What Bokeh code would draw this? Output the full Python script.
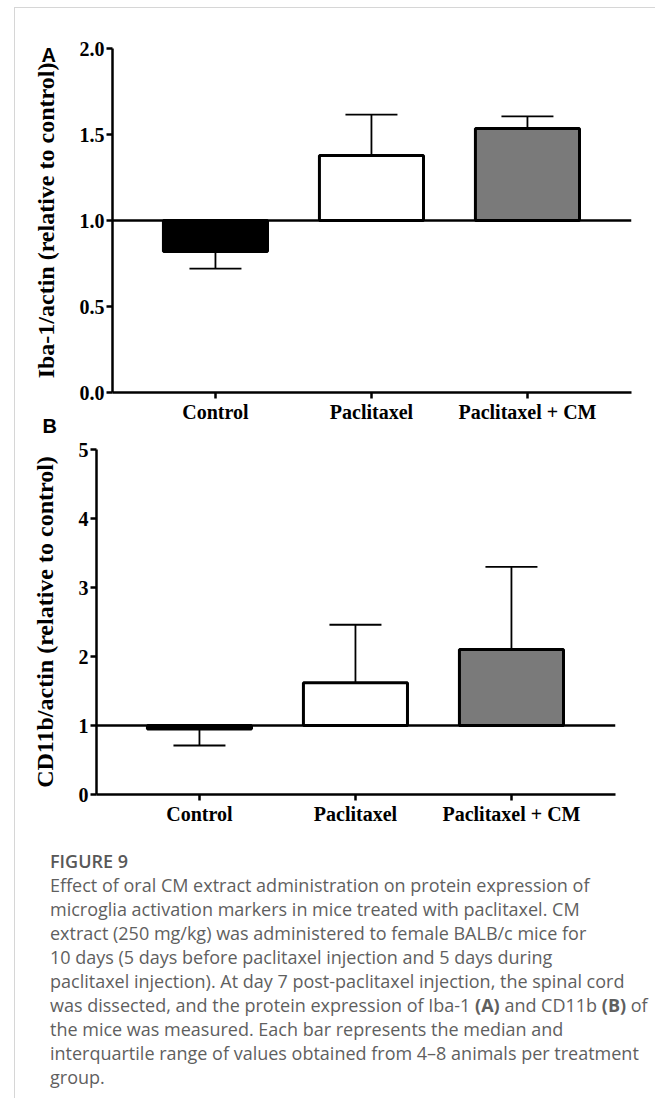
from bokeh.plotting import figure
from bokeh.models import (Range1d, FixedTicker, NumeralTickFormatter, Span, Title,
                          Div, ColumnDataSource)
from bokeh.layouts import column
from bokeh.embed import file_html
from bokeh.resources import INLINE

# ---------------- data ----------------
categories = ["Control", "Paclitaxel", "Paclitaxel + CM"]

iba1_median = [0.82, 1.378, 1.535]
iba1_iqr_end = [0.72, 1.615, 1.605]
iba1_ticks = [0.0, 0.5, 1.0, 1.5, 2.0]

cd11b_median = [0.95, 1.62, 2.10]
cd11b_iqr_end = [0.71, 2.46, 3.30]
cd11b_ticks = [0, 1, 2, 3, 4, 5]

baseline = 1.0
fills = ["black", "white", "#7a7a7a"]   # last bar: fine black/white checker in the original

caption_lines = [
    "Effect of oral CM extract administration on protein expression of",
    "microglia activation markers in mice treated with paclitaxel. CM",
    "extract (250 mg/kg) was administered to female BALB/c mice for",
    "10 days (5 days before paclitaxel injection and 5 days during",
    "paclitaxel injection). At day 7 post-paclitaxel injection, the spinal cord",
    "was dissected, and the protein expression of Iba-1 <b>(A)</b> and CD11b <b>(B)</b> of",
    "the mice was measured. Each bar represents the median and",
    "interquartile range of values obtained from 4\u20138 animals per treatment",
    "group.",
]

SERIF = "Liberation Serif"
SANS = "Liberation Sans"


def make_panel(medians, ends, ticks, fmt, ylabel, ymax, left, right, top, bottom, width, height):
    p = figure(width=width, height=height, output_backend="svg", toolbar_location=None,
               x_range=Range1d(-0.66, 2.667), y_range=Range1d(0, ymax),
               min_border_left=left, min_border_right=right,
               min_border_top=top, min_border_bottom=bottom,
               background_fill_color="white", border_fill_color="white")
    p.frame_align = False
    p.outline_line_color = None
    p.xgrid.grid_line_color = None
    p.ygrid.grid_line_color = None

    xs = list(range(len(categories)))
    src = ColumnDataSource(dict(x=xs, med=medians, end=ends,
                                base=[baseline] * len(xs), fill=fills,
                                cap0=[x - 1 / 6 for x in xs], cap1=[x + 1 / 6 for x in xs]))

    # whisker stems (under the bars)
    p.segment(x0="x", y0="med", x1="x", y1="end", source=src,
              line_color="black", line_width=1.8)
    # bars from baseline 1.0
    p.vbar(x="x", width=0.667, bottom="base", top="med", source=src,
           fill_color="fill", line_color="black", line_width=3)
    # caps
    p.segment(x0="cap0", y0="end", x1="cap1", y1="end", source=src,
              line_color="black", line_width=1.8)

    p.add_layout(Span(location=baseline, dimension="width",
                      line_color="black", line_width=2.5))

    for ax in (p.xaxis[0], p.yaxis[0]):
        ax.axis_line_width = 2.5
        ax.axis_line_color = "black"
        ax.major_tick_line_width = 2.5
        ax.major_tick_line_color = "black"
        ax.major_tick_out = 6
        ax.major_tick_in = 0
        ax.minor_tick_out = 0
        ax.minor_tick_in = 0
        ax.major_label_text_font = SERIF
        ax.major_label_text_font_style = "bold"
        ax.major_label_text_font_size = "20px"
        ax.major_label_text_color = "black"
        ax.major_label_standoff = 2

    p.xaxis.ticker = FixedTicker(ticks=xs)
    p.xaxis.major_label_overrides = {float(x): c for x, c in zip(xs, categories)}

    p.yaxis.ticker = FixedTicker(ticks=ticks)
    p.yaxis.formatter = NumeralTickFormatter(format=fmt)
    p.yaxis.axis_label = ylabel
    p.yaxis.axis_label_text_font = SERIF
    p.yaxis.axis_label_text_font_style = "bold"
    p.yaxis.axis_label_text_font_size = "24px"
    p.yaxis.axis_label_text_color = "black"
    p.yaxis.axis_label_standoff = 18
    return p


pA = make_panel(iba1_median, iba1_iqr_end, iba1_ticks, "0.0",
                "Iba-1/actin (relative to control)", 2.0,
                left=97, right=20, top=40, bottom=48, width=636, height=432)
pB = make_panel(cd11b_median, cd11b_iqr_end, cd11b_ticks, "0",
                "CD11b/actin (relative to control)", 5.0,
                left=81, right=36, top=9, bottom=36, width=636, height=390)

# panel letters
pA.title.text = "A"
pA.title.align = "left"
pA.title.offset = -71
pA.title.vertical_align = "bottom"
pA.title.standoff = -34
pA.title.text_font = SANS
pA.title.text_font_style = "bold"
pA.title.text_font_size = "20px"
pA.title.text_color = "black"

pA.add_layout(Title(text="B", align="left", offset=-70, vertical_align="top",
                    standoff=-21, text_font=SANS, text_font_style="bold",
                    text_font_size="20px", text_color="black"), "below")

html = ('<div style="padding:14px 0 0 30px; font-family:\'Open Sans\'; font-size:18px; '
        'line-height:24px; color:#5f5f5f; white-space:nowrap;">'
        '<span style="font-weight:600; color:#585858;">FIGURE 9</span><br>'
        + "<br>".join(caption_lines) + '</div>')
cap = Div(text=html, width=636, height=258)

layout = column(pA, pB, cap, margin=(7, 0, 0, 14),
                styles={"border-left": "1px solid #d6d6d6",
                        "border-top": "1px solid #d6d6d6"})

open("out.html", "w").write(file_html(layout, INLINE))
